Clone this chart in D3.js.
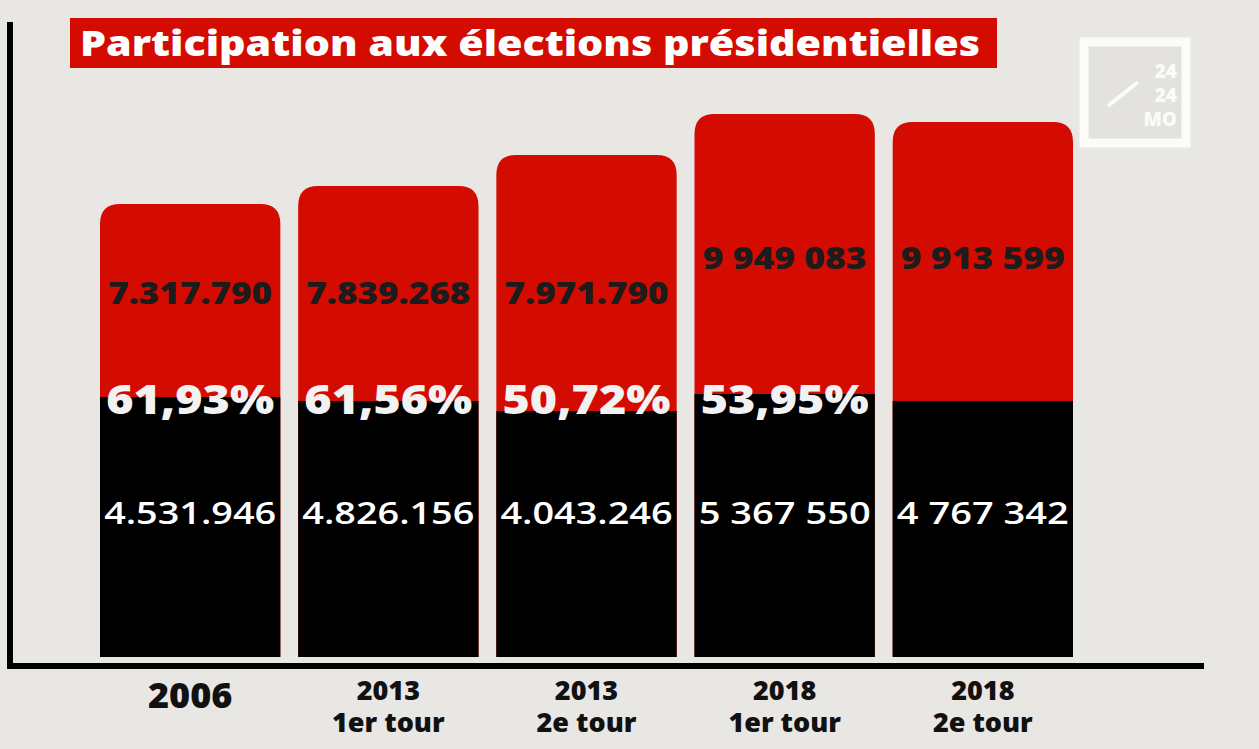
<!DOCTYPE html>
<html><head><meta charset="utf-8">
<script src="https://cdn.jsdelivr.net/npm/d3@7"></script>
<style>
body{margin:0;background:#e8e7e3;}
text{font-family:"Open Sans","Liberation Sans",sans-serif;}
</style></head><body>
<svg id="chart" width="1259" height="749"></svg>
<script>
// scrutins
var categories = ["2006", "2013|1er tour", "2013|2e tour", "2018|1er tour", "2018|2e tour"];
var inscrits = ["7.317.790", "7.839.268", "7.971.790", "9 949 083", "9 913 599"];
var votants = ["4.531.946", "4.826.156", "4.043.246", "5 367 550", "4 767 342"];
var participation = ["61,93%", "61,56%", "50,72%", "53,95%", ""];
// bar heights as drawn in the graphic (chart units, not proportional to counts)
var totalHeight = [453, 471, 502, 543, 535];
var votedHeight = [260, 256, 246, 263, 256];

var svg = d3.select("#chart");
var bottom = 657;

var x = d3.scaleBand().domain(categories).range([100, 100 + 5 * 181 + 4 * 17]).paddingInner(0.09).paddingOuter(0);
var y = d3.scaleLinear().domain([0, 600]).range([bottom, bottom - 600]);

function topRounded(x0, y0, w, h, r) {
  return "M" + x0 + "," + (y0 + h) + "V" + (y0 + r) + "Q" + x0 + "," + y0 + " " + (x0 + r) + "," + y0 +
    "H" + (x0 + w - r) + "Q" + (x0 + w) + "," + y0 + " " + (x0 + w) + "," + (y0 + r) + "V" + (y0 + h) + "Z";
}

var g = svg.selectAll(".bar").data(categories).enter().append("g").attr("class", "bar");

g.append("path")
  .attr("fill", "#d40b00")
  .attr("d", function (d, i) { return topRounded(x(d), y(totalHeight[i]), x.bandwidth(), bottom - y(totalHeight[i]), 20); });
g.append("rect")
  .attr("fill", "#000")
  .attr("x", function (d) { return x(d); })
  .attr("y", function (d, i) { return y(votedHeight[i]); })
  .attr("width", x.bandwidth())
  .attr("height", function (d, i) { return bottom - y(votedHeight[i]); });

g.append("text")
  .attr("x", function (d) { return x(d) + x.bandwidth() / 2; })
  .attr("y", function (d, i) { return i >= 3 ? 269 : 304; })
  .attr("text-anchor", "middle").attr("font-size", 30).attr("font-weight", 800)
  .attr("fill", "#1c1c1c").attr("textLength", 164).attr("lengthAdjust", "spacingAndGlyphs")
  .text(function (d, i) { return inscrits[i]; });

g.append("text")
  .attr("x", function (d) { return x(d) + x.bandwidth() / 2; })
  .attr("y", 414)
  .attr("text-anchor", "middle").attr("font-size", 41).attr("font-weight", 800)
  .attr("fill", "#f2f2f2")
  .attr("textLength", function (d, i) { return participation[i] ? 168 : null; })
  .attr("lengthAdjust", "spacingAndGlyphs")
  .text(function (d, i) { return participation[i]; });

g.append("text")
  .attr("x", function (d) { return x(d) + x.bandwidth() / 2; })
  .attr("y", 524)
  .attr("text-anchor", "middle").attr("font-size", 31).attr("font-weight", 600)
  .attr("fill", "#fff").attr("textLength", 172).attr("lengthAdjust", "spacingAndGlyphs")
  .text(function (d, i) { return votants[i]; });

// axes
svg.append("line").attr("x1", 10).attr("x2", 10).attr("y1", 22).attr("y2", 669)
  .attr("stroke", "#000").attr("stroke-width", 6);
svg.append("line").attr("x1", 7).attr("x2", 1204).attr("y1", 666).attr("y2", 666)
  .attr("stroke", "#000").attr("stroke-width", 6);

// category labels
var lab = svg.selectAll(".lab").data(categories).enter().append("text")
  .attr("text-anchor", "middle").attr("font-weight", 800).attr("fill", "#111")
  .attr("x", function (d) { return x(d) + x.bandwidth() / 2; });
lab.each(function (d) {
  var parts = d.split("|"), t = d3.select(this);
  if (parts.length === 1) {
    t.attr("y", 708).attr("font-size", 36).text(parts[0]);
  } else {
    t.attr("font-size", 27);
    t.append("tspan").attr("x", t.attr("x")).attr("y", 700).text(parts[0]);
    t.append("tspan").attr("x", t.attr("x")).attr("y", 732).text(parts[1]);
  }
});

// title
svg.append("rect").attr("x", 70).attr("y", 18).attr("width", 927).attr("height", 50).attr("fill", "#d40b00");
svg.append("text").attr("x", 80).attr("y", 56).attr("font-size", 36).attr("font-weight", 800)
  .attr("fill", "#fff").attr("textLength", 900).attr("lengthAdjust", "spacingAndGlyphs")
  .text("Participation aux élections présidentielles");

// logo
var logo = svg.append("g").attr("transform", "translate(1080,38)");
logo.append("rect").attr("x", 4).attr("y", 4).attr("width", 102).attr("height", 101)
  .attr("fill", "#e3e2df").attr("stroke", "#fbfbfa").attr("stroke-width", 9);
logo.append("line").attr("x1", 28).attr("y1", 68).attr("x2", 58).attr("y2", 44)
  .attr("stroke", "#fbfbfa").attr("stroke-width", 4);
[["24", 40], ["24", 64], ["MO", 88]].forEach(function (p) {
  logo.append("text").attr("x", 97).attr("y", p[1]).attr("text-anchor", "end")
    .attr("font-size", 19).attr("font-weight", 800).attr("fill", "#fbfbfa").text(p[0]);
});
</script></body></html>
